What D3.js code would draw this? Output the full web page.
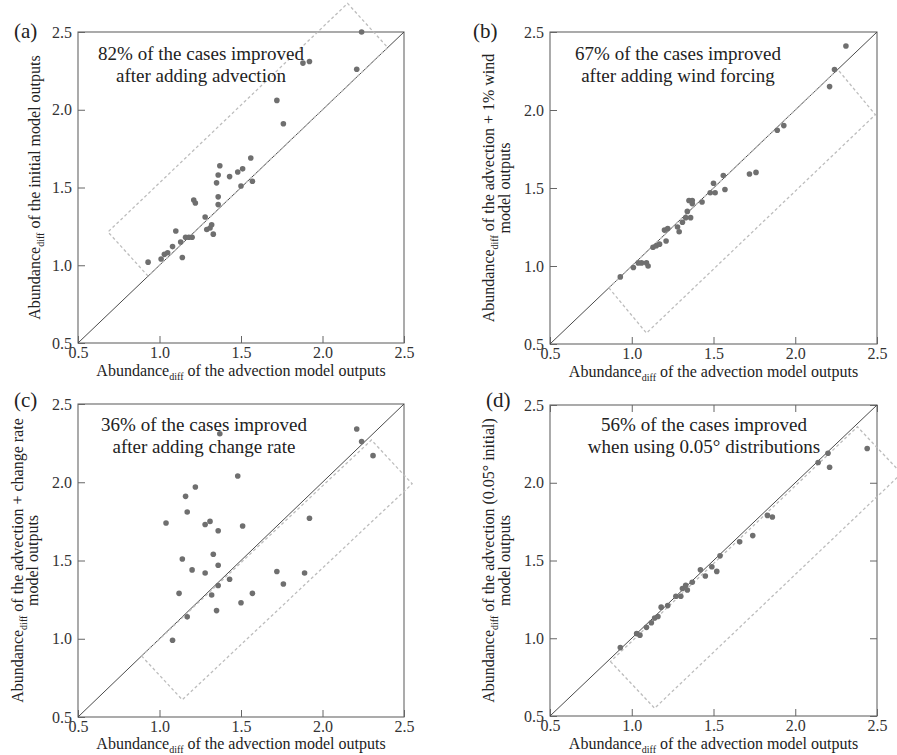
<!DOCTYPE html>
<html>
<head>
<meta charset="utf-8">
<script src="https://cdn.jsdelivr.net/npm/d3@7"></script>
<style>
  html, body { margin: 0; padding: 0; background: #fff; }
  svg { display: block; }
  text { font-family: "Liberation Serif", "Times New Roman", serif; }
</style>
</head>
<body>
<script>
// Shared axis ticks (both axes run 0.5 – 2.5)
const tickValues = [0.5, 1.0, 1.5, 2.0, 2.5];
const tickLabels = ["0.5", "1.0", "1.5", "2.0", "2.5"];

// (a) advection model vs initial model
const advA  = [0.93,1.01,1.03,1.05,1.08,1.10,1.13,1.14,1.16,1.18,1.20,1.21,1.22,1.28,1.29,1.31,1.32,1.33,1.35,1.36,1.37,1.36,1.36,1.43,1.48,1.51,1.56,1.50,1.57,1.72,1.76,1.88,1.92,2.21,2.24];
const initA = [1.02,1.04,1.07,1.08,1.12,1.22,1.15,1.05,1.18,1.18,1.18,1.42,1.40,1.31,1.23,1.24,1.26,1.20,1.53,1.58,1.64,1.44,1.39,1.57,1.60,1.62,1.69,1.51,1.54,2.06,1.91,2.30,2.31,2.26,2.50];

// (b) advection model vs advection + 1% wind
const advB  = [0.93,1.01,1.04,1.06,1.09,1.10,1.13,1.15,1.17,1.21,1.20,1.22,1.28,1.29,1.31,1.33,1.34,1.36,1.35,1.37,1.37,1.43,1.48,1.51,1.50,1.56,1.57,1.72,1.76,1.89,1.93,2.21,2.24,2.31];
const windB = [0.93,0.99,1.02,1.02,1.02,1.00,1.12,1.13,1.14,1.16,1.23,1.24,1.25,1.22,1.28,1.31,1.35,1.31,1.42,1.42,1.40,1.41,1.47,1.47,1.53,1.58,1.49,1.59,1.60,1.87,1.90,2.15,2.26,2.41];

// (c) advection model vs advection + change rate
const advC  = [1.04,1.16,1.17,1.22,1.14,1.20,1.12,1.17,1.08,1.28,1.31,1.36,1.33,1.28,1.36,1.36,1.32,1.35,1.43,1.48,1.51,1.50,1.57,1.37,1.72,1.76,1.89,1.92,2.21,2.24,2.31];
const rateC = [1.74,1.91,1.81,1.97,1.51,1.44,1.29,1.14,0.99,1.73,1.75,1.69,1.54,1.42,1.47,1.34,1.28,1.18,1.38,2.04,1.72,1.23,1.29,2.31,1.43,1.35,1.42,1.77,2.34,2.26,2.17];

// (d) advection model vs advection with 0.05° initial distributions
const advD  = [0.93,1.03,1.05,1.09,1.12,1.14,1.16,1.18,1.22,1.27,1.30,1.31,1.33,1.34,1.37,1.42,1.45,1.49,1.52,1.54,1.66,1.74,1.83,1.86,2.14,2.20,2.21,2.44];
const fineD = [0.94,1.03,1.02,1.07,1.10,1.13,1.14,1.20,1.21,1.27,1.27,1.32,1.34,1.31,1.36,1.44,1.40,1.46,1.43,1.53,1.62,1.66,1.79,1.78,2.13,2.19,2.10,2.22];

// Highlighted regions (corners in data units)
const regionA = [[0.93,0.93],[0.684,1.214],[2.154,2.684],[2.40,2.40]];
const regionB = [[0.86,0.86],[1.09,0.57],[2.49,1.97],[2.26,2.26]];
const regionC = [[0.89,0.89],[1.14,0.61],[2.55,1.99],[2.30,2.27]];
const regionD = [[0.87,0.85],[1.14,0.55],[2.65,2.06],[2.38,2.36]];

// Texts
const panelTags = ["(a)", "(b)", "(c)", "(d)"];
const notesA = ["82% of the cases improved", "after adding advection"];
const notesB = ["67% of the cases improved", "after adding wind forcing"];
const notesC = ["36% of the cases improved", "after adding change rate"];
const notesD = ["56% of the cases improved", "when using 0.05\u00b0 distributions"];
const xTitleRest = " of the advection model outputs";
const yTitlesA = [" of the initial model outputs"];
const yTitlesB = [" of the advection + 1% wind", "model outputs"];
const yTitlesC = [" of the advection + change rate", "model outputs"];
const yTitlesD = [" of the advection (0.05\u00b0 initial)", "model outputs"];

const panels = [
  { tag: panelTags[0], xs: advA, ys: initA, region: regionA, notes: notesA, yTitles: yTitlesA,
    box: { l: 78, r: 404, t: 32, b: 343 }, tagPos: [14, 38], notePos: [201, 60], yTitleX: [40], xTitleY: 376, mirror: false },
  { tag: panelTags[1], xs: advB, ys: windB, region: regionB, notes: notesB, yTitles: yTitlesB,
    box: { l: 550, r: 877, t: 32, b: 344 }, tagPos: [473, 38], notePos: [678, 60], yTitleX: [494, 510], xTitleY: 377, mirror: false },
  { tag: panelTags[2], xs: advC, ys: rateC, region: regionC, notes: notesC, yTitles: yTitlesC,
    box: { l: 78, r: 404, t: 404, b: 717 }, tagPos: [14, 407], notePos: [204, 431], yTitleX: [23, 38], xTitleY: 749, mirror: false },
  { tag: panelTags[3], xs: advD, ys: fineD, region: regionD, notes: notesD, yTitles: yTitlesD,
    box: { l: 550, r: 877, t: 405, b: 716 }, tagPos: [486, 407], notePos: [704, 431], yTitleX: [494, 510], xTitleY: 749, mirror: true }
];

const W = 897, H = 755;
const svg = d3.select("body").append("svg").attr("width", W).attr("height", H);

// "Abundance" with a "diff" subscript, followed by the rest of the title
function abundanceTitle(textSel, rest) {
  textSel.append("tspan").text("Abundance");
  textSel.append("tspan").attr("font-size", 10).attr("dy", 4).text("diff");
  textSel.append("tspan").attr("dy", -4).text(rest);
}

panels.forEach(p => {
  const { l, r, t, b } = p.box;
  const x = d3.scaleLinear().domain([0.5, 2.5]).range([l, r]);
  const y = d3.scaleLinear().domain([0.5, 2.5]).range([b, t]);
  const g = svg.append("g");

  // inward ticks on left and bottom
  const fmt = (d, i) => tickLabels[i];
  const xAxis = d3.axisBottom(x).tickValues(tickValues).tickFormat(fmt)
    .tickSizeInner(-7).tickSizeOuter(0).tickPadding(4);
  const yAxis = d3.axisLeft(y).tickValues(tickValues).tickFormat(fmt)
    .tickSizeInner(-7).tickSizeOuter(0).tickPadding(6);

  const styleAxis = sel => {
    sel.select(".domain").remove();
    sel.selectAll(".tick line").attr("stroke", "#666");
    sel.selectAll(".tick text").attr("fill", "#333").attr("font-size", 16)
      .attr("font-family", "Liberation Serif, Times New Roman, serif");
  };
  g.append("g").attr("transform", `translate(0,${b})`).call(xAxis).call(styleAxis);
  g.append("g").attr("transform", `translate(${l},0)`).call(yAxis).call(styleAxis);

  if (p.mirror) {
    const topAxis = d3.axisTop(x).tickValues(tickValues).tickFormat("").tickSizeInner(-7).tickSizeOuter(0);
    const rightAxis = d3.axisRight(y).tickValues(tickValues).tickFormat("").tickSizeInner(-7).tickSizeOuter(0);
    g.append("g").attr("transform", `translate(0,${t})`).call(topAxis).call(styleAxis);
    g.append("g").attr("transform", `translate(${r},0)`).call(rightAxis).call(styleAxis);
  }

  // frame
  g.append("rect").attr("x", l).attr("y", t).attr("width", r - l).attr("height", b - t)
    .attr("fill", "none").attr("stroke", "#666").attr("stroke-width", 1.1);

  // 1:1 line
  g.append("line")
    .attr("x1", x(0.5)).attr("y1", y(0.5)).attr("x2", x(2.5)).attr("y2", y(2.5))
    .attr("stroke", "#4a4a4a").attr("stroke-width", 1);

  // dashed highlighted region
  g.append("path")
    .attr("d", d3.line().x(d => x(d[0])).y(d => y(d[1])).curve(d3.curveLinearClosed)(p.region))
    .attr("fill", "none").attr("stroke", "#bdbdbd").attr("stroke-width", 1.3)
    .attr("stroke-dasharray", "3,2.5");

  // cases
  g.selectAll("circle.pt").data(p.xs.map((v, i) => [v, p.ys[i]])).join("circle")
    .attr("class", "pt")
    .attr("cx", d => x(d[0])).attr("cy", d => y(d[1])).attr("r", 2.8)
    .attr("fill", "#6f6f6f");

  // panel tag
  g.append("text").attr("x", p.tagPos[0]).attr("y", p.tagPos[1])
    .attr("font-size", 21).attr("fill", "#222").text(p.tag);

  // annotation
  p.notes.forEach((s, i) => {
    g.append("text").attr("x", p.notePos[0]).attr("y", p.notePos[1] + i * 22)
      .attr("text-anchor", "middle").attr("font-size", 19).attr("fill", "#222").text(s);
  });

  // x title
  const xt = g.append("text").attr("x", (l + r) / 2).attr("y", p.xTitleY)
    .attr("text-anchor", "middle").attr("font-size", 16).attr("fill", "#222");
  abundanceTitle(xt, xTitleRest);

  // y title (one or two lines)
  const cy = (t + b) / 2;
  p.yTitles.forEach((s, i) => {
    const yt = g.append("text")
      .attr("transform", `translate(${p.yTitleX[i]},${cy}) rotate(-90)`)
      .attr("text-anchor", "middle").attr("font-size", 16).attr("fill", "#222");
    if (i === 0) abundanceTitle(yt, s); else yt.text(s);
  });
});
</script>
</body>
</html>
